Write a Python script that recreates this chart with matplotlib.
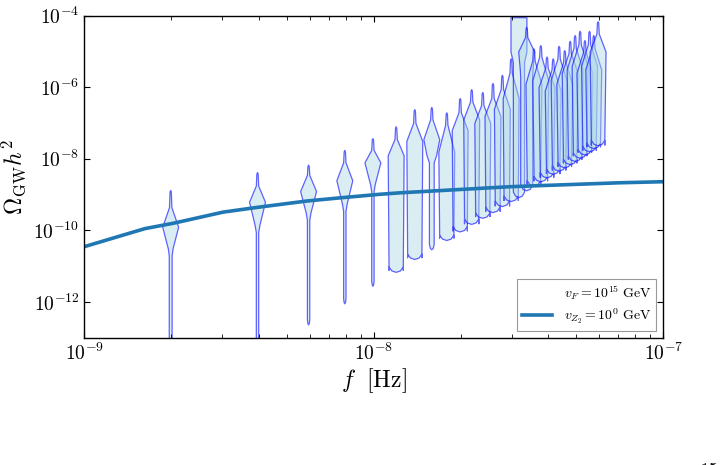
import numpy as np
import matplotlib
matplotlib.use("Agg")
import matplotlib.pyplot as plt
from matplotlib.ticker import FixedLocator, FuncFormatter, NullFormatter, NullLocator

plt.rcParams['mathtext.fontset'] = 'cm'
plt.rcParams['font.family'] = ['DejaVu Serif']

# ---------------- data ----------------
# GW spectrum line (frequency in Hz, Omega_GW h^2)
line_f = [1.0e-9, 1.62e-9, 2.03e-9, 3.02e-9, 3.94e-9, 5.86e-9, 7.64e-9,
          1.05e-8, 1.23e-8, 2.95e-8, 7.08e-8, 1.0e-7]
line_omega = [3.5e-11, 1.12e-10, 1.58e-10, 3.24e-10, 4.37e-10, 6.6e-10, 8.1e-10,
              1.02e-9, 1.12e-9, 1.66e-9, 2.14e-9, 2.29e-9]

# violin frequencies (Hz)
violin_f = [1.98e-9, 3.95e-9, 5.93e-9, 7.91e-9, 9.89e-9, 1.19e-8, 1.38e-8, 1.58e-8,
            1.78e-8, 1.98e-8, 2.17e-8, 2.37e-8, 2.57e-8, 2.77e-8, 2.97e-8, 3.16e-8,
            3.36e-8, 3.56e-8, 3.76e-8, 3.95e-8, 4.15e-8, 4.35e-8, 4.55e-8, 4.75e-8,
            4.94e-8, 5.14e-8, 5.34e-8, 5.54e-8, 5.73e-8, 5.93e-8]
# log10 Omega: top of violin, end of neck, widest level, end of body, bottom
v_top = [-8.87, -8.37, -8.16, -7.75, -7.42, -7.09, -6.61, -6.55, -6.70, -6.30,
         -6.05, -6.13, -5.88, -5.65, -5.19, -4.04, -4.31, -4.91, -4.82, -5.14,
         -5.19, -4.84, -4.96, -4.70, -4.54, -4.42, -4.68, -4.42, -4.54, -4.15]
v_neck = [-9.35, -8.75, -8.45, -8.10, -7.75, -7.45, -7.00, -6.90, -7.05, -6.70,
          -6.40, -6.50, -6.30, -6.05, -5.60, -4.045, -4.60, -5.25, -5.15, -5.45,
          -5.50, -5.20, -5.30, -5.05, -4.90, -4.80, -5.00, -4.80, -4.90, -4.50]
v_peak = [-9.90, -9.20, -8.90, -8.60, -8.10, -7.90, -7.50, -7.45, -7.80, -7.20,
          -6.90, -7.00, -6.80, -6.60, -6.30, -4.05, -5.00, -5.90, -5.80, -6.00,
          -6.10, -5.80, -5.90, -5.60, -5.50, -5.40, -5.60, -5.40, -5.50, -5.00]
v_bodyend = [-10.50, -9.85, -9.50, -9.25, -8.70, -10.90, -10.55, -7.90, -10.00, -9.80,
             -9.60, -9.40, -9.25, -9.10, -8.95, -5.00, -5.50, -8.50, -8.40, -8.30,
             -8.20, -8.10, -8.00, -7.90, -7.80, -7.70, -7.60, -7.55, -7.45, -7.40]
v_bottom = [-13.5, -13.5, -12.63, -12.04, -11.55, -11.16, -10.80, -10.53, -10.27, -10.03,
            -9.82, -9.65, -9.49, -9.32, -9.18, -9.07, -8.88, -8.75, -8.63, -8.52,
            -8.42, -8.33, -8.24, -8.15, -8.06, -7.97, -7.88, -7.79, -7.70, -7.62]
# relative widths: at body end and along the tail
v_bodyw = [0.30, 0.30, 0.30, 0.30, 0.30, 0.90, 0.90, 0.60, 0.90, 0.90,
           0.90, 0.90, 0.90, 0.90, 0.90, 1.00, 0.80, 0.85, 0.85, 0.85,
           0.85, 0.85, 0.85, 0.85, 0.85, 0.85, 0.85, 0.85, 0.85, 0.85]
v_tailw = [0.18, 0.15, 0.15, 0.15, 0.15, 0.90, 0.90, 0.30, 0.90, 0.90,
           0.90, 0.90, 0.90, 0.90, 0.90, 0.70, 0.75, 0.85, 0.85, 0.85,
           0.85, 0.85, 0.85, 0.85, 0.85, 0.85, 0.85, 0.85, 0.85, 0.85]

legend_labels = [r'$v_F = 10^{15}\ \mathrm{GeV}$', r'$v_{Z_2} = 10^{0}\ \mathrm{GeV}$']

# ---------------- figure ----------------
fig = plt.figure(figsize=(7.23, 4.65), dpi=100)
rect = [0.1166, 0.2738, 0.8008, 0.6924]
axv = fig.add_axes(rect)
ax = fig.add_axes(rect)
axv.set_zorder(0)
ax.set_zorder(1)
ax.patch.set_alpha(0)


def build_stats(T, N, P, E, bw, tw, B):
    if N > P + 0.02:
        levels = [T, T - 0.04, N, P, E, E - 0.2, B + 0.15, B + 0.04, B]
        widths = [0.0, 0.08, 0.15, 1.0, bw, tw, tw, tw * 0.6, 0.0]
    else:  # flat (clipped) top
        levels = [T, T - 0.002, E, E - 0.3, B + 0.15, B + 0.04, B]
        widths = [0.0, 1.0, bw, tw, tw, tw * 0.6, 0.0]
    return dict(coords=np.array(levels), vals=np.array(widths),
                mean=P, median=P, min=B, max=T)


stats = [build_stats(*p) for p in zip(v_top, v_neck, v_peak, v_bodyend,
                                      v_bodyw, v_tailw, v_bottom)]
parts = axv.violin(stats, positions=np.log10(violin_f), widths=0.055,
                   showmeans=False, showextrema=False, showmedians=False)
for body in parts['bodies']:
    body.set_alpha(None)
    body.set_facecolor((0.678, 0.847, 0.902, 0.45))
    body.set_edgecolor((0.0, 0.0, 1.0, 0.6))
    body.set_linewidth(0.9)
axv.set_xlim(-9, -7)
axv.set_ylim(-13, -4)
axv.axis('off')

ax.set_xscale('log')
ax.set_yscale('log')
ax.plot([], [], ' ', label=legend_labels[0])
ax.plot(line_f, line_omega, color='#1f77b4', lw=2.6, label=legend_labels[1])
ax.set_xlim(1e-9, 1e-7)
ax.set_ylim(1e-13, 1e-4)

fmt = FuncFormatter(lambda v, p: r'$10^{%d}$' % int(round(np.log10(v))))
ax.xaxis.set_major_locator(FixedLocator([1e-9, 1e-8, 1e-7]))
ax.xaxis.set_major_formatter(fmt)
ax.xaxis.set_minor_formatter(NullFormatter())
ax.yaxis.set_major_locator(FixedLocator([1e-12, 1e-10, 1e-8, 1e-6, 1e-4]))
ax.yaxis.set_major_formatter(fmt)
ax.yaxis.set_minor_locator(NullLocator())
ax.tick_params(which='both', direction='in', top=True, right=True, labelsize=14)
ax.tick_params(which='major', length=4.5, width=0.8)
ax.tick_params(which='minor', length=3, width=0.6)
for s in ax.spines.values():
    s.set_linewidth(1.0)

ax.set_xlabel(r'$f\ \ [\mathrm{Hz}]$', fontsize=17, labelpad=2)
ax.set_ylabel(r'$\Omega_{\rm GW} h^2$', fontsize=17, labelpad=4)

leg = ax.legend(loc='lower right', fontsize=10, fancybox=False, framealpha=1,
                edgecolor='0.6', handlelength=2.2, labelspacing=0.3,
                borderpad=0.35)
leg.get_frame().set_linewidth(0.8)

fig.text(700 / 723, 1 - 462 / 465, r'$15$', fontsize=12, va='top', ha='left')

fig.savefig('out.png', dpi=100)
